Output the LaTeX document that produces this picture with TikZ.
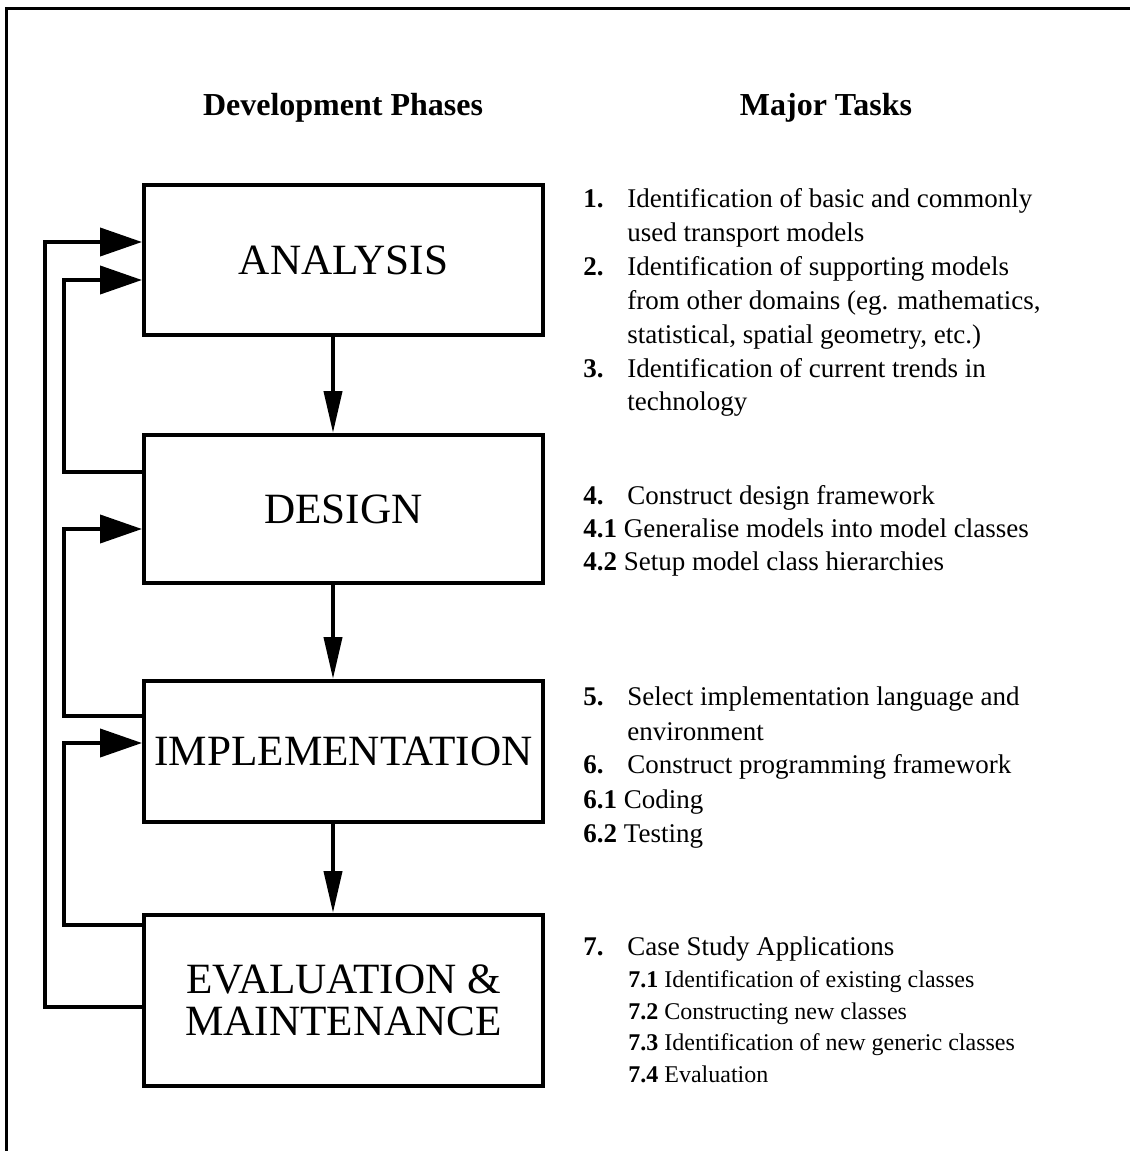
\documentclass[tikz,border=0pt]{standalone}
\usepackage{fontspec}
\setmainfont{Liberation Serif}
\usepackage{tikz}
\usetikzlibrary{arrows.meta, positioning}

\begin{document}
\begin{tikzpicture}[x=0.5pt, y=-0.5pt,
    phase/.style={rectangle, draw=black, line width=2pt, minimum width=199.5pt, inner sep=0pt, align=center, font=\fontsize{21.6}{21}\selectfont},
    heading/.style={anchor=base, inner sep=0pt, font=\fontsize{16}{19}\selectfont\bfseries},
    task/.style={anchor=base west, inner sep=0pt, font=\fontsize{13.5}{17}\selectfont},
    num/.style={task, font=\fontsize{13.5}{17}\selectfont\bfseries},
    subtask/.style={task, font=\fontsize{12}{15}\selectfont},
    flow/.style={-{Triangle[length=21pt, width=9pt]}, line width=2pt},
    back/.style={-{Triangle[length=21pt, width=14pt]}, line width=2pt}
]
\useasboundingbox (0,0) rectangle (1130,1151);

% Frame
\draw[line width=1.25pt] (6.5,1151) -- (6.5,8.5) -- (1130,8.5);

% Headings
\node[heading] (hphase) at (343,115) {Development Phases};
\node[heading] (htask) at (826,115) {Major Tasks};

% Phases
\node[phase, minimum height=75pt] (ana) at (343.5,260) {ANALYSIS};
\node[phase, minimum height=74pt] (des) at (343.5,509) {DESIGN};
\node[phase, minimum height=70.5pt] (imp) at (343.5,751.5) {IMPLEMENTATION};
\node[phase, minimum height=85.5pt] (eva) at (343.5,1000.5) {EVALUATION \&\\MAINTENANCE};

% Forward arrows
\draw[flow] ([xshift=-5.25pt]ana.south) -- ([xshift=-5.25pt]des.north);
\draw[flow] ([xshift=-5.25pt]des.south) -- ([xshift=-5.25pt]imp.north);
\draw[flow] ([xshift=-5.25pt]imp.south) -- ([xshift=-5.25pt]eva.north);

% Feedback arrows
\draw[back] ([yshift=-3.25pt]eva.west) -- ++(-97,0) |- ([yshift=9pt]ana.west);
\draw[back] ([yshift=18.5pt]des.west) -- ++(-78,0) |- ([yshift=-10pt]ana.west);
\draw[back] ([yshift=17.75pt]imp.west) -- ++(-78,0) |- ([yshift=-10pt]des.west);
\draw[back] ([yshift=37.75pt]eva.west) -- ++(-78,0) |- ([yshift=4.25pt]imp.west);

% Tasks for analysis
\node[num] (n1) at (583,207) {1.};
\node[task] (t1a) at (627,207) {Identification of basic and commonly};
\node[task] (t1b) at (627,241) {used transport models};
\node[num] (n2) at (583,275) {2.};
\node[task] (t2a) at (627,275) {Identification of supporting models};
\node[task] (t2b) at (627,309) {from other domains (eg. mathematics,};
\node[task] (t2c) at (627,343) {statistical, spatial geometry, etc.)};
\node[num] (n3) at (583,377) {3.};
\node[task] (t3a) at (627,377) {Identification of current trends in};
\node[task] (t3b) at (627,410) {technology};

% Tasks for design
\node[num] (n4) at (583,504) {4.};
\node[task] (t4) at (627,504) {Construct design framework};
\node[task] (t41) at (583,537) {\textbf{4.1} Generalise models into model classes};
\node[task] (t42) at (583,570) {\textbf{4.2} Setup model class hierarchies};

% Tasks for implementation
\node[num] (n5) at (583,705) {5.};
\node[task] (t5a) at (627,705) {Select implementation language and};
\node[task] (t5b) at (627,740) {environment};
\node[num] (n6) at (583,773) {6.};
\node[task] (t6) at (627,773) {Construct programming framework};
\node[task] (t61) at (583,808) {\textbf{6.1} Coding};
\node[task] (t62) at (583,842) {\textbf{6.2} Testing};

% Tasks for evaluation
\node[num] (n7) at (583,955) {7.};
\node[task] (t7) at (627,955) {Case Study Applications};
\node[subtask] (t71) at (628,987) {\textbf{7.1} Identification of existing classes};
\node[subtask] (t72) at (628,1019) {\textbf{7.2} Constructing new classes};
\node[subtask] (t73) at (628,1050) {\textbf{7.3} Identification of new generic classes};
\node[subtask] (t74) at (628,1082) {\textbf{7.4} Evaluation};

\end{tikzpicture}
\end{document}
